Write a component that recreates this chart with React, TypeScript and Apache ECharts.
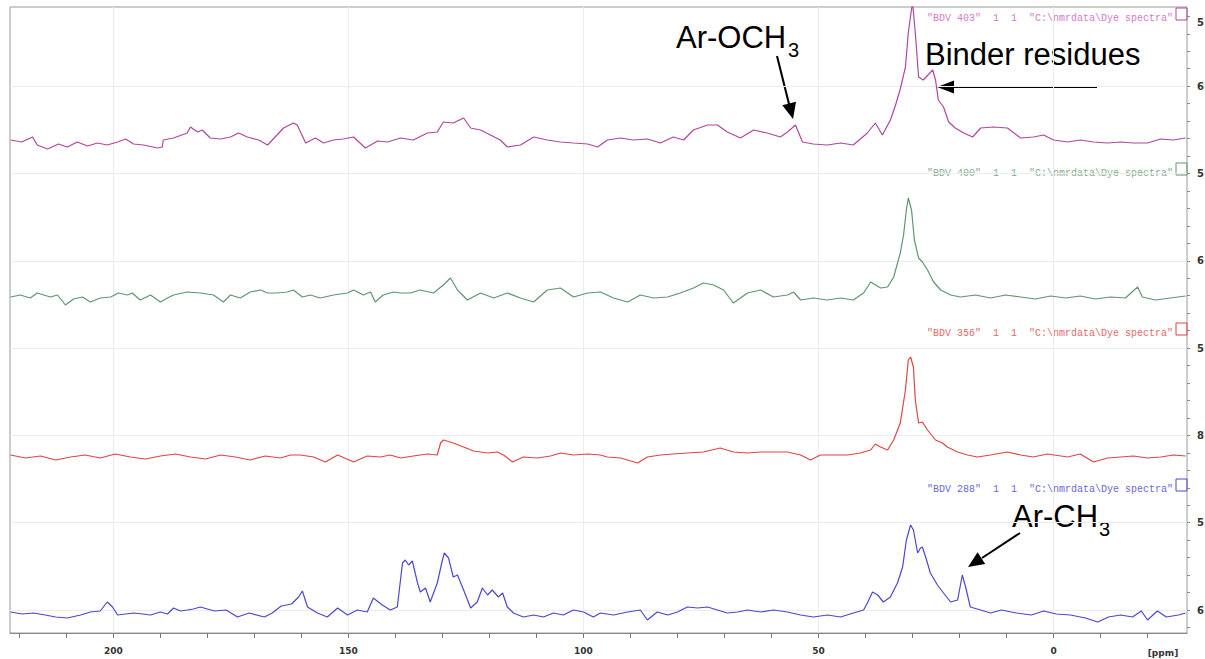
import React, { useEffect, useRef } from "react";
import * as echarts from "echarts";

// ---- axes ----
const ppmMin = -28.4;
const ppmMax = 222;
const xTickValues = [220, 210, 200, 190, 180, 170, 160, 150, 140, 130, 120, 110, 100, 90, 80, 70, 60, 50, 40, 30, 20, 10, 0, -10, -20];
const xLabelValues = [200, 150, 100, 50, 0];
const gridPpm = [200, 150, 100, 50, 0];
const yMin = 0;
const yMax = 626;
const yMajorValues = [23, 110.3, 197.6, 284.9, 372.2, 459.5, 546.8];
const yMajorLabels = ["6", "5", "8", "5", "6", "5", "6"];
const yMinorStep = 17.46;

// ---- traces (top to bottom) ----
const traceNames = [
  '"BDV 403"  1  1  "C:\\nmrdata\\Dye spectra"',
  '"BDV 400"  1  1  "C:\\nmrdata\\Dye spectra"',
  '"BDV 356"  1  1  "C:\\nmrdata\\Dye spectra"',
  '"BDV 288"  1  1  "C:\\nmrdata\\Dye spectra"',
];
const traceOffsets = [491, 336, 176, 20];
const traceColors = ["#b0479f", "#5f9670", "#e04545", "#4a48cc"];
const labelColors = ["#d47ac8", "#86ab93", "#e46a6a", "#6a68d8"];
const labelLift = 124;

// [ppm, intensity]
const bdv403: [number, number][] = [
  [221.9, 2], [219.5, 0], [217.2, 5], [216.2, -3], [214.0, -7], [211.7, -2], [209.8, -5], [207.7, 0], [205.5, -4], [203.4, -1],
  [201.3, -3], [199.1, 0], [197.4, 3], [195.7, -2], [193.6, -3], [190.6, -6], [189.6, -5], [189.4, 2], [187.2, 4], [184.3, 9],
  [183.6, 15], [182.1, 10], [181.1, 12], [179.4, 4], [177.2, 3], [175.1, 5], [173.4, 9], [171.5, 5], [169.1, 2], [167.2, -3],
  [166.0, 3], [163.8, 14], [161.7, 19], [160.9, 17], [159.1, -1], [157.0, 4], [155.3, -1], [153.2, 2], [151.1, 3], [148.9, 5],
  [146.4, -6], [143.8, 1], [141.7, 0], [138.9, 4], [136.2, 2], [133.2, 9], [131.1, 10], [129.8, 20], [127.7, 19], [125.5, 24],
  [124.0, 14], [121.9, 12], [119.8, 7], [117.7, 2], [116.2, -5], [113.4, -3], [110.6, 5], [107.7, 2], [104.9, 0], [102.1, -1],
  [99.1, -2], [97.0, -5], [94.9, 2], [92.1, 4], [89.4, 2], [86.4, 3], [83.6, -1], [80.9, 5], [78.7, 2], [76.6, 12],
  [73.6, 17], [71.5, 17], [69.4, 10], [66.6, 4], [63.8, 12], [60.9, 9], [58.1, 5], [56.6, 10], [54.9, 17], [53.4, 0],
  [51.1, -2], [48.1, -3], [45.3, -1], [42.6, -3], [39.6, 9], [37.9, 19], [36.4, 7], [34.7, 22], [33.6, 37], [32.6, 53],
  [31.5, 75], [30.9, 109], [30.0, 140], [29.4, 109], [28.7, 65], [27.7, 62], [25.7, 72], [25.1, 62], [24.5, 42], [23.4, 35],
  [22.3, 20], [20.9, 14], [19.1, 9], [17.2, 5], [15.5, 14], [12.8, 15], [9.8, 14], [7.0, 4], [4.3, 5], [2.1, 7],
  [0, 2], [-3.0, 0], [-5.7, 2], [-8.5, 0], [-11.5, -1], [-14.3, 0], [-17.0, -1], [-20.0, -1], [-22.8, 3], [-25.5, 2], [-28.1, 4],
];

const bdv400: [number, number][] = [
  [221.9, 0], [219.8, 2], [217.7, -1], [216.2, 4], [213.4, 0], [211.9, 2], [210.2, -8], [208.5, -2], [206.6, 0], [204.9, -5],
  [202.8, -1], [200.6, 0], [198.9, 4], [197.0, 2], [196.0, 4], [194.3, -3], [192.1, 2], [190.0, -5], [188.5, -1], [187.2, 2],
  [184.3, 5], [181.5, 4], [178.7, 2], [176.6, -5], [175.1, 2], [173.0, -1], [170.9, 5], [168.7, 7], [167.2, 4], [165.1, 4],
  [163.0, 5], [161.7, 7], [159.8, 0], [158.1, 2], [156.0, -1], [153.2, 2], [150.2, 4], [148.9, 7], [146.8, 2], [145.3, 5],
  [144.3, -5], [142.6, 2], [140.4, 5], [138.9, 4], [136.8, 4], [134.7, 7], [131.9, 4], [129.8, 12], [128.3, 19], [126.8, 7],
  [124.7, -3], [121.9, 4], [119.1, -1], [116.2, 4], [113.4, -1], [110.6, -5], [107.7, 7], [104.9, 9], [102.1, 0], [99.1, 4],
  [96.4, 5], [93.6, -1], [90.6, -5], [87.9, 2], [85.1, -1], [82.1, 0], [79.4, 4], [76.6, 9], [74.5, 14], [72.3, 12],
  [70.2, 7], [68.1, -6], [65.1, 4], [62.3, 7], [59.6, 0], [56.6, 2], [55.3, 5], [53.8, -3], [51.1, -1], [48.1, -3],
  [45.3, -1], [42.6, -3], [40.4, 4], [38.9, 15], [36.8, 9], [35.3, 10], [34.0, 20], [32.6, 44], [31.9, 62], [31.3, 87],
  [30.9, 99], [30.2, 87], [29.6, 57], [28.7, 39], [27.9, 35], [26.8, 27], [25.5, 15], [24.0, 7], [21.9, 2], [19.8, 0],
  [16.6, 2], [13.4, -1], [10.2, 2], [7.0, 0], [3.8, -2], [0.6, 1], [-2.6, -1], [-5.7, 1], [-8.9, -2], [-12.1, 0],
  [-15.3, -1], [-17.9, 10], [-18.9, 0], [-21.7, -3], [-24.9, -1], [-28.1, 1],
];

const bdv356: [number, number][] = [
  [221.9, 2], [218.7, -1], [215.5, 1], [212.3, -3], [209.1, 0], [206.0, 2], [202.8, -1], [199.6, 3], [196.4, 0], [193.2, -2],
  [190.0, 1], [186.8, 3], [183.6, 0], [180.4, -2], [177.2, 2], [174.0, 0], [170.9, -3], [167.7, 1], [164.5, -1], [162.3, 2],
  [160.2, 2], [157.4, 0], [154.9, -5], [152.3, 2], [148.9, -5], [146.0, 1], [143.2, 0], [141.1, 2], [138.9, -1], [136.2, 1],
  [133.2, 3], [131.1, 2], [130.4, 14], [129.8, 17], [127.7, 14], [125.5, 10], [123.4, 6], [120.4, 4], [118.3, 5], [117.0, 2],
  [115.1, -5], [112.8, 0], [109.8, -1], [107.0, 1], [104.9, 4], [102.1, 2], [99.1, 3], [96.4, 2], [94.9, 0], [92.1, -1],
  [88.5, -6], [86.4, 0], [83.6, 2], [80.9, 3], [77.9, 4], [74.5, 5], [70.9, 9], [68.1, 5], [65.1, 4], [62.3, 5],
  [59.6, 5], [56.6, 5], [53.8, 2], [51.7, -3], [49.6, 2], [46.8, 2], [43.8, 2], [41.1, 4], [38.9, 7], [37.9, 13],
  [36.8, 10], [35.3, 7], [34.0, 17], [32.6, 34], [31.5, 67], [30.9, 97], [30.4, 100], [29.8, 90], [29.4, 57], [28.7, 34],
  [27.9, 35], [26.8, 27], [25.1, 17], [23.6, 14], [22.6, 10], [20.4, 5], [18.3, 2], [16.2, 0], [13.4, 2], [9.8, 5],
  [7.0, 2], [4.3, 0], [1.3, 3], [-3.0, 0], [-5.7, 3], [-8.5, -5], [-11.5, -1], [-14.3, 0], [-17.0, 1], [-20.0, -1],
  [-22.8, 0], [-25.5, 2], [-28.1, 1],
];

const bdv288: [number, number][] = [
  [221.9, 1], [219.4, -1], [217.0, 0], [214.5, -2], [212.3, -4], [209.8, -5], [207.0, -2], [204.9, 1], [202.8, 2], [201.3, 11],
  [200.2, 6], [199.1, -2], [197.4, -1], [195.7, 0], [193.8, -1], [192.1, -2], [190.0, 1], [188.5, -1], [187.2, 5], [185.7, 2],
  [184.3, 3], [183.0, 4], [181.5, 6], [178.5, 2], [176.0, 3], [173.6, -4], [171.1, 0], [167.9, -4], [166.2, 0], [164.3, 7],
  [162.1, 9], [160.6, 16], [159.8, 22], [158.7, 6], [156.6, 0], [154.5, -4], [152.3, 5], [150.2, -2], [148.1, 3], [146.0, 1],
  [144.7, 15], [142.8, 8], [141.1, 3], [139.6, 6], [138.5, 50], [137.9, 53], [137.2, 48], [136.4, 52], [135.3, 30], [134.7, 21],
  [133.6, 25], [132.6, 11], [131.1, 30], [130.0, 53], [129.6, 60], [128.7, 55], [127.7, 36], [126.8, 38], [125.5, 23], [124.0, 5],
  [122.6, 11], [121.5, 25], [120.4, 18], [119.4, 23], [118.1, 16], [117.2, 20], [116.2, 6], [114.9, 0], [112.8, -4], [110.6, -2],
  [108.5, -4], [106.4, 0], [104.3, -2], [102.1, 3], [100.0, 1], [97.9, -4], [96.4, 0], [93.6, -2], [90.6, 1], [87.9, 3],
  [86.4, -7], [84.3, 1], [82.1, -2], [80.0, 1], [77.9, 6], [75.7, 5], [73.6, 6], [71.5, 3], [69.4, 0], [67.2, 1],
  [65.1, 3], [62.3, 1], [59.6, 3], [56.6, 1], [53.8, -2], [51.1, -4], [48.1, -2], [45.3, -4], [42.6, 0], [40.4, 3],
  [39.6, 10], [38.5, 21], [37.4, 18], [36.2, 11], [34.7, 16], [33.2, 30], [32.1, 46], [31.3, 73], [30.4, 88], [29.8, 83],
  [28.9, 60], [28.3, 65], [27.9, 66], [27.2, 56], [26.2, 40], [24.7, 28], [23.4, 20], [21.9, 11], [20.4, 13], [19.4, 38],
  [18.7, 26], [17.7, 6], [15.5, 3], [13.4, 0], [11.1, 3], [7.9, 0], [4.7, -2], [2.1, 2], [-0.6, -1], [-3.6, -2],
  [-6.8, -5], [-9.4, -9], [-11.7, -4], [-14.3, -2], [-16.8, -4], [-18.7, 2], [-20.0, -7], [-22.1, 2], [-24.0, -4], [-26.6, -2],
  [-28.1, 0],
];

const spectra = [bdv403, bdv400, bdv356, bdv288];

export default function App() {
  const ref = useRef<HTMLDivElement>(null);

  useEffect(() => {
    if (!ref.current) return;
    const chart = echarts.init(ref.current, undefined, { renderer: "svg" });

    const minorValues: number[] = [];
    for (let v = yMajorValues[0] - yMinorStep; v <= yMax; v += yMinorStep) minorValues.push(+v.toFixed(2));

    const series: any[] = spectra.map((s, i) => ({
      type: "line",
      name: traceNames[i],
      data: s.map(([p, v]) => [p, v + traceOffsets[i]]),
      symbol: "none",
      showSymbol: false,
      silent: true,
      z: 3,
      lineStyle: { color: traceColors[i], width: 1.2 },
      itemStyle: { color: traceColors[i] },
    }));
    series[3].markLine = {
      silent: true,
      symbol: ["none", "none"],
      z: 1,
      animation: false,
      label: { show: false },
      emphasis: { disabled: true },
      lineStyle: { color: "#ececec", width: 1, type: "solid" },
      data: [
        ...gridPpm.map((v) => ({ xAxis: v })),
        ...yMajorValues.map((v) => ({ yAxis: v })),
      ],
    };

    chart.setOption({
      animation: false,
      backgroundColor: "#ffffff",
      grid: {
        left: 10, right: 18, top: 7, bottom: 26,
        show: true, borderColor: "#9a9a9a", borderWidth: 1,
        containLabel: false, outerBoundsMode: "none",
      },
      xAxis: {
        type: "value",
        inverse: true,
        min: ppmMin,
        max: ppmMax,
        axisLine: { show: true, lineStyle: { color: "#8a8a8a", width: 1 } },
        axisTick: { show: true, inside: false, length: 5, lineStyle: { color: "#777" }, customValues: xTickValues },
        axisLabel: {
          show: true, customValues: xLabelValues, margin: 13,
          fontSize: 9, fontWeight: "bold", color: "#333", fontFamily: "DejaVu Sans",
        },
        splitLine: { show: false },
      },
      yAxis: [
        {
          type: "value",
          position: "right",
          min: yMin,
          max: yMax,
          axisLine: { show: true, lineStyle: { color: "#8a8a8a", width: 1 } },
          axisTick: { show: true, inside: false, length: 6, lineStyle: { color: "#777" }, customValues: yMajorValues },
          axisLabel: {
            show: true, customValues: yMajorValues, margin: 10,
            fontSize: 10, fontWeight: "bold", color: "#333", fontFamily: "DejaVu Sans",
            formatter: (v: number) => {
              const k = yMajorValues.findIndex((m) => Math.abs(m - v) < 0.01);
              return k >= 0 ? yMajorLabels[k] : "";
            },
          },
          splitLine: { show: false },
        },
        {
          type: "value",
          position: "right",
          min: yMin,
          max: yMax,
          axisLine: { show: false },
          axisTick: { show: true, inside: false, length: 3, lineStyle: { color: "#888" }, customValues: minorValues },
          axisLabel: { show: false },
          splitLine: { show: false },
        },
      ],
      series,
    });

    const toPx = (x: number, y: number) =>
      chart.convertToPixel({ xAxisIndex: 0, yAxisIndex: 0 }, [x, y]) as number[];
    const [rightX] = toPx(ppmMin, 0);

    const graphics: any[] = [];
    traceNames.forEach((name, i) => {
      const [, ly] = toPx(0, traceOffsets[i] + labelLift);
      graphics.push({
        type: "text", x: rightX - 14, y: ly, silent: true,
        style: {
          text: name, fill: labelColors[i], fontSize: 10,
          fontFamily: '"Liberation Mono", monospace', align: "right", verticalAlign: "middle",
        },
      });
      graphics.push({
        type: "rect", silent: true,
        shape: { x: rightX - 11, y: ly - 10, width: 11, height: 12 },
        style: { fill: "none", stroke: traceColors[i], lineWidth: 1 },
      });
    });

    const big = { fontSize: 31, fontFamily: '"Liberation Sans", Arial, sans-serif', fill: "#000" };
    const sub = { fontSize: 20, fontFamily: '"Liberation Sans", Arial, sans-serif', fill: "#000" };
    graphics.push(
      { type: "text", x: 676, y: 37, style: { ...big, text: "Ar-OCH", align: "left", verticalAlign: "middle" } },
      { type: "text", x: 788, y: 50, style: { ...sub, text: "3", align: "left", verticalAlign: "middle" } },
      { type: "line", shape: { x1: 777, y1: 56, x2: 789, y2: 104 }, style: { stroke: "#000", lineWidth: 2 } },
      { type: "polygon", shape: { points: [[793, 119], [796, 101.8], [782.3, 105.2]] }, style: { fill: "#000" } },

      { type: "text", x: 925, y: 54, style: { ...big, text: "Binder residues", align: "left", verticalAlign: "middle" } },
      { type: "line", shape: { x1: 1097, y1: 87, x2: 950, y2: 87 }, style: { stroke: "#000", lineWidth: 2 } },
      { type: "polygon", shape: { points: [[937, 87], [954, 80.5], [954, 93.5]] }, style: { fill: "#000" } },

      { type: "text", x: 1012, y: 516, style: { ...big, text: "Ar-CH", align: "left", verticalAlign: "middle" } },
      { type: "text", x: 1099, y: 529, style: { ...sub, text: "3", align: "left", verticalAlign: "middle" } },
      { type: "line", shape: { x1: 1020, y1: 533, x2: 982, y2: 558 }, style: { stroke: "#000", lineWidth: 2 } },
      { type: "polygon", shape: { points: [[968, 567], [985.2, 564.1], [977.6, 552.3]] }, style: { fill: "#000" } },

      {
        type: "text", x: 1163, y: 653,
        style: { text: "[ppm]", fontSize: 9, fontWeight: "bold", fill: "#333", fontFamily: "DejaVu Sans", align: "center", verticalAlign: "middle" },
      },
      {
        type: "text", x: 1197, y: 22,
        style: { text: "5", fontSize: 10, fontWeight: "bold", fill: "#333", fontFamily: "DejaVu Sans", align: "left", verticalAlign: "middle" },
      }
    );

    chart.setOption({ graphic: graphics });

    return () => chart.dispose();
  }, []);

  return (
    <div
      ref={ref}
      style={{ position: "absolute", left: 0, top: 0, width: 1205, height: 659 }}
    />
  );
}
